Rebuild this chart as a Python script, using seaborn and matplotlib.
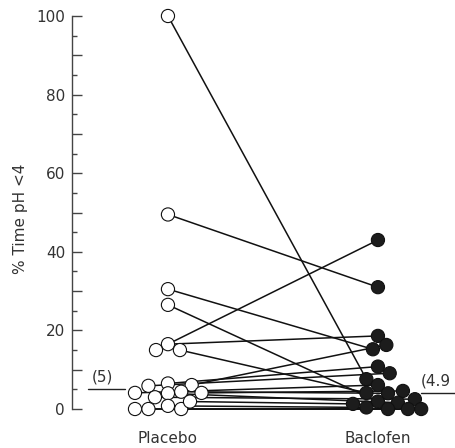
import numpy as np
import pandas as pd
import matplotlib
matplotlib.use("Agg")
import matplotlib.pyplot as plt
import seaborn as sns
from matplotlib.ticker import FixedLocator

# ---- data ----
conditions = ["Placebo", "Baclofen"]
placebo = [100, 49.5, 30.5, 26.5, 16.5, 15.0, 15.0, 6.5, 5.9, 6.1,
           4.1, 4.1, 4.4, 3.0, 4.0, 0.0, 0.0, 0.8, 0.0, 1.9]
baclofen = [7.6, 31.0, 15.2, 1.9, 18.6, 43.0, 4.1, 10.8, 9.1, 16.3,
            6.1, 4.6, 4.0, 2.5, 1.6, 0.0, 0.0, 0.4, 0.0, 1.3]
# horizontal jitter of each point (category units) as drawn in the figure
placebo_jitter = [0, 0, 0, 0, 0, -0.057, 0.057, 0, -0.093, 0.113,
                  -0.157, 0.160, 0.063, -0.062, 0, -0.157, -0.093, 0, 0.063, 0.105]
baclofen_jitter = [-0.055, 0, -0.024, 0, 0, 0, -0.055, 0, 0.056, 0.040,
                   0, 0.119, 0.048, 0.176, 0.095, 0.048, 0.143, -0.055, 0.206, -0.119]
median_labels = ["(5)", "(4.9"]
median_line_y = [5.0, 4.0]
ytick_values = list(range(0, 101, 10))
ytick_labels = [str(v) if v % 20 == 0 else "" for v in ytick_values]
yminor_values = list(range(5, 100, 10))

n = len(placebo)
rows = []
for i in range(n):
    rows.append(dict(subject=i, condition=conditions[0],
                     xpos=0 + placebo_jitter[i], value=placebo[i]))
    rows.append(dict(subject=i, condition=conditions[1],
                     xpos=1 + baclofen_jitter[i], value=baclofen[i]))
df = pd.DataFrame(rows)

sns.set_theme(style="ticks")
plt.rcParams["font.family"] = ["DejaVu Sans"]
text_color = "#333333"

fig = plt.figure(figsize=(4.55, 4.48), dpi=100)
ax = fig.add_axes([72 / 455, (448 - 420.8) / 448, 383 / 455, (420.8 - 16) / 448])

sns.lineplot(data=df, x="xpos", y="value", units="subject", estimator=None,
             sort=False, color="#111111", linewidth=1.1, ax=ax, zorder=2)
sns.scatterplot(data=df, x="xpos", y="value", hue="condition",
                palette={"Placebo": "white", "Baclofen": "#1c1c1c"},
                edgecolor="#111111", linewidth=0.8, s=90, ax=ax,
                legend=False, zorder=3, clip_on=False)

ax.set_xlim(-0.457, 1.367)
ax.set_ylim(-3, 100)

# median annotations
ax.plot([-0.381, -0.205], [median_line_y[0]] * 2, color="#222222", lw=1.0, clip_on=False)
ax.text(-0.314, 8.1, median_labels[0], ha="center", va="center",
        fontsize=11, color=text_color)
ax.plot([1.205, 1.367], [median_line_y[1]] * 2, color="#222222", lw=1.0, clip_on=False)
ax.text(1.205, 7.1, median_labels[1], ha="left", va="center",
        fontsize=11, color=text_color, clip_on=False)

# axes styling
for side in ["top", "right", "bottom"]:
    ax.spines[side].set_visible(False)
ax.spines["left"].set_bounds(0, 100)
ax.spines["left"].set_color("#444444")
ax.spines["left"].set_linewidth(1.0)

ax.yaxis.set_major_locator(FixedLocator(ytick_values))
ax.set_yticklabels(ytick_labels)
ax.yaxis.set_minor_locator(FixedLocator(yminor_values))
ax.tick_params(axis="y", which="major", direction="in", length=7, width=1.0,
               color="#444444", labelsize=11, labelcolor=text_color, pad=5)
ax.tick_params(axis="y", which="minor", direction="in", length=3.6, width=1.0,
               color="#444444")
ax.set_xticks([0, 1])
ax.set_xticklabels(conditions)
ax.tick_params(axis="x", length=0, labelsize=11, labelcolor=text_color, pad=7)

ax.set_xlabel("")
ax.set_ylabel("% Time pH <4", fontsize=11, color=text_color, labelpad=6)

fig.savefig("out.png", dpi=100)
